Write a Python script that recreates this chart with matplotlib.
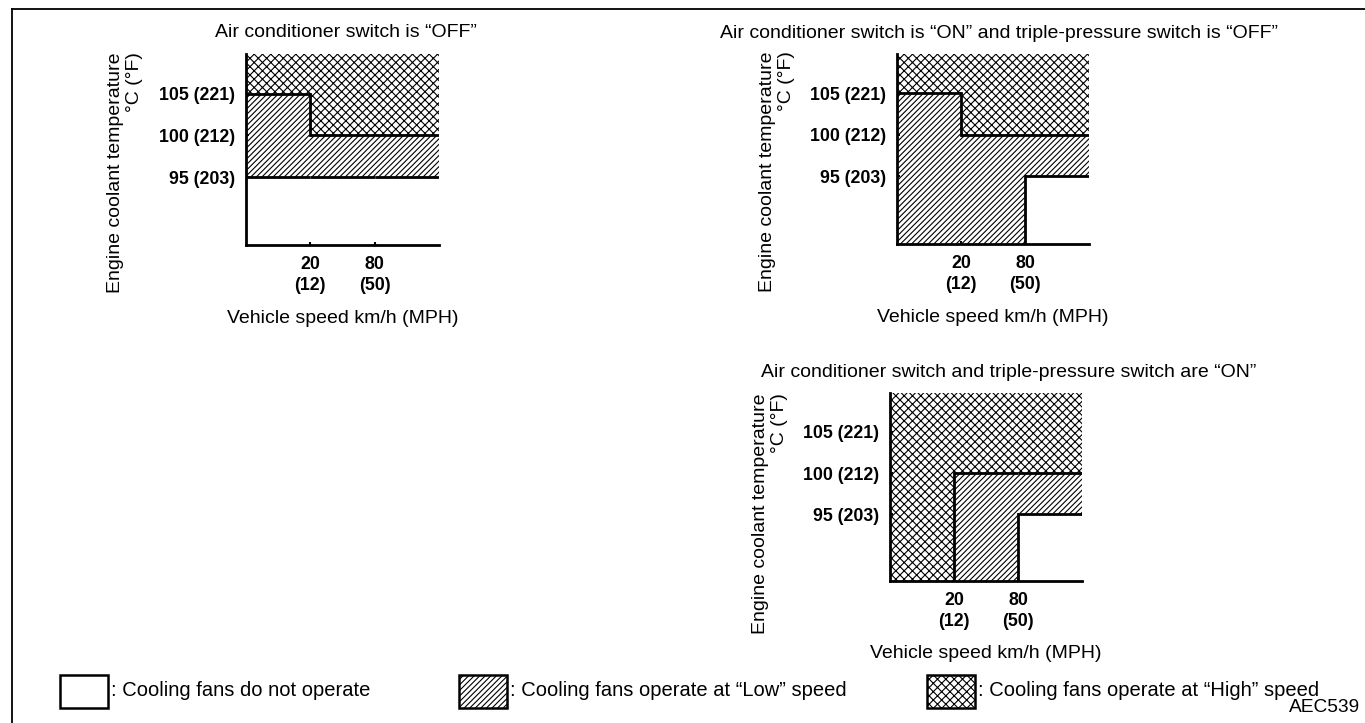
import matplotlib
matplotlib.use("Agg")
import matplotlib.pyplot as plt
from matplotlib.patches import Rectangle

plt.rcParams['font.family'] = ['Liberation Sans', 'DejaVu Sans']
plt.rcParams['hatch.color'] = 'black'
plt.rcParams['hatch.linewidth'] = 0.8

# ---------------- data ----------------
speed_labels = ["20\n(12)", "80\n(50)"]          # km/h (MPH) boundaries
temp_values = [95, 100, 105]                     # °C
temp_labels = ["95 (203)", "100 (212)", "105 (221)"]
BOTTOM = "bottom"

titles = [
    "Air conditioner switch is \u201cOFF\u201d",
    "Air conditioner switch is \u201cON\u201d and triple-pressure switch is \u201cOFF\u201d",
    "Air conditioner switch and triple-pressure switch are \u201cON\u201d",
]
# lower edge of "Low" region and lower edge of "High" region per speed segment
# segments: below 20 km/h, 20-80 km/h, above 80 km/h
low_from_off = [95, 95, 95]
high_from_off = [105, 100, 100]
low_from_on_tpoff = [BOTTOM, BOTTOM, 95]
high_from_on_tpoff = [105, 100, 100]
low_from_on_on = [BOTTOM, BOTTOM, 95]
high_from_on_on = [BOTTOM, 100, 100]

legend_labels = [": Cooling fans do not operate",
                 ": Cooling fans operate at \u201cLow\u201d speed",
                 ": Cooling fans operate at \u201cHigh\u201d speed"]
code_label = "AEC539"

# ---------------- layout ----------------
W, H = 1365, 723
fig = plt.figure(figsize=(W / 100, H / 100), dpi=100)

Y_BOT, Y_TOP = -1.63, 2.95
HATCH_LOW, HATCH_HIGH = '//////', 'xxxx'
LW = 2.0
FS = 14
FS_TICK = 12.8


def px_axes(left, right, top, bottom):
    return fig.add_axes([left / W, (H - bottom) / H, (right - left) / W, (bottom - top) / H])


def ypos(v):
    if v == BOTTOM:
        return Y_BOT
    return temp_values.index(v)


def draw_boundary(ax, bounds):
    ys = [ypos(b) for b in bounds]
    for i, b in enumerate(bounds):
        if b != BOTTOM:
            ax.plot([i, i + 1], [ys[i], ys[i]], color='black', lw=LW, solid_capstyle='butt', zorder=5)
        if i > 0 and ys[i] != ys[i - 1]:
            ax.plot([i, i], [min(ys[i], ys[i - 1]), max(ys[i], ys[i - 1])],
                    color='black', lw=LW, zorder=5)


def chart(ax, title, low_from, high_from, title_dx=0.0, ylab_y=0.38):
    nseg = len(low_from)
    for i in range(nseg):
        lo = ypos(low_from[i])
        hi = ypos(high_from[i])
        if hi > lo:
            ax.fill_between([i, i + 1], lo, hi, facecolor='white', edgecolor='black',
                            hatch=HATCH_LOW, linewidth=0, zorder=1)
        ax.fill_between([i, i + 1], hi, Y_TOP, facecolor='white', edgecolor='black',
                        hatch=HATCH_HIGH, linewidth=0, zorder=1)
    draw_boundary(ax, high_from)
    draw_boundary(ax, low_from)

    ax.set_xlim(0, nseg)
    ax.set_ylim(Y_BOT, Y_TOP)
    for s in ['top', 'right']:
        ax.spines[s].set_visible(False)
    for s in ['left', 'bottom']:
        ax.spines[s].set_linewidth(LW)
        ax.spines[s].set_zorder(6)
    ax.set_xticks(range(1, len(speed_labels) + 1))
    ax.set_xticklabels(speed_labels, fontsize=FS_TICK, fontweight='bold', linespacing=1.3)
    ax.set_yticks(range(len(temp_values)))
    ax.set_yticklabels(temp_labels, fontsize=FS_TICK, fontweight='bold')
    ax.tick_params(axis='x', length=2, width=1.5, direction='in', pad=8)
    ax.tick_params(axis='y', length=2, width=1.5, direction='in', pad=8)
    ax.set_facecolor('none')
    ax.text(0.5 + title_dx, 1.11, title, transform=ax.transAxes, ha='center', va='center',
            fontsize=FS)
    ax.text(0.5, -0.385, "Vehicle speed km/h (MPH)", transform=ax.transAxes,
            ha='center', va='center', fontsize=FS)
    ax.text(-0.625, ylab_y, "Engine coolant temperature\n\u00b0C (\u00b0F)", transform=ax.transAxes,
            rotation=90, ha='center', va='center', multialignment='right',
            linespacing=1.15, fontsize=FS)


ax1 = px_axes(246, 439, 54, 245)
ax2 = px_axes(897, 1089, 54, 244)
ax3 = px_axes(890, 1082, 393, 581)
chart(ax1, titles[0], low_from_off, high_from_off, title_dx=0.02)
chart(ax2, titles[1], low_from_on_tpoff, high_from_on_tpoff, title_dx=0.03)
chart(ax3, titles[2], low_from_on_on, high_from_on_on, title_dx=0.12, ylab_y=0.36)

# ---------------- overlay: border + legend ----------------
ov = fig.add_axes([0, 0, 1, 1], zorder=-1)
ov.set_xlim(0, W)
ov.set_ylim(H, 0)
ov.axis('off')
ov.plot([12, W], [9, 9], color='black', lw=1.3)
ov.plot([12, 12], [9, H], color='black', lw=1.3)

hatches = [None, HATCH_LOW, HATCH_HIGH]
box_x = [60, 459, 927]
for bx, hatch, lab in zip(box_x, hatches, legend_labels):
    ov.add_patch(Rectangle((bx, 675), 48, 33, facecolor='white', edgecolor='black',
                           hatch=hatch, linewidth=1.8))
    ov.text(bx + 51, 691, lab, ha='left', va='center', fontsize=14.5)
ov.text(1360, 708, code_label, ha='right', va='center', fontsize=13.8)

fig.savefig("out.png", dpi=100, facecolor='white')
